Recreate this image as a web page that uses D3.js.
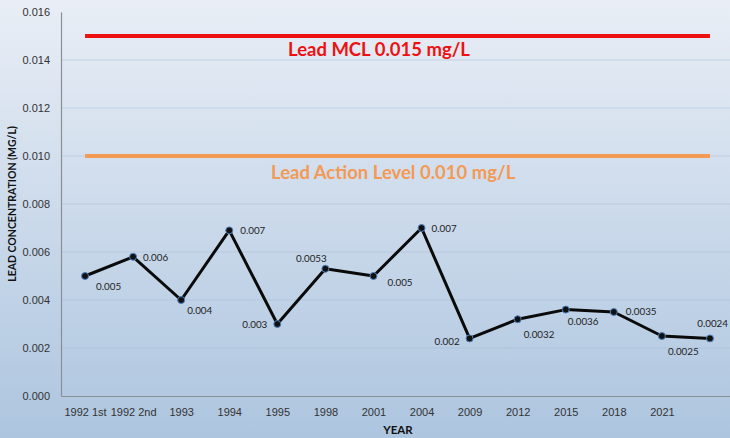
<!DOCTYPE html>
<html lang="en">
<head>
<meta charset="UTF-8">
<title>Lead concentration</title>
<script src="https://cdn.jsdelivr.net/npm/d3@7"></script>
<style>
	body { margin: 0; }
	svg { display: block; font-family: Lato, "Open Sans", sans-serif; }
	.tick text { fill: #333; font-size: 11px; }
	.dot { fill: #111; stroke: #4f81bd; stroke-width: 1px; }
	.lbl { font-size: 9.8px; fill: #222; }
</style>
</head>
<body>
<script>
	var years = ['1992 1st', '1992 2nd', '1993', '1994', '1995', '1998', '2001', '2004',
		'2009', '2012', '2015', '2018', '2021', ''];
	var lead = [0.005, 0.0058, 0.004, 0.0069, 0.003, 0.0053, 0.005, 0.007,
		0.0024, 0.0032, 0.0036, 0.0035, 0.0025, 0.0024];
	var labels = ['0.005', '0.006', '0.004', '0.007', '0.003', '0.0053', '0.005', '0.007',
		'0.002', '0.0032', '0.0036', '0.0035', '0.0025', '0.0024'];
	var yTicks = [0, 0.002, 0.004, 0.006, 0.008, 0.010, 0.012, 0.014, 0.016];
	var mcl = 0.015;
	var actionLevel = 0.010;

	// label placement relative to each point: [dx, dy, anchor]
	var labelPos = [
		[11, 14, 'start'], [10, 4, 'start'], [6, 14, 'start'], [11, 4, 'start'],
		[-10, 4, 'end'], [-14, -7, 'middle'], [14, 10, 'start'], [10, 4, 'start'],
		[-10, 7, 'end'], [6, 19, 'start'], [2, 15, 'start'], [12, 3, 'start'],
		[6, 19, 'start'], [18, -11, 'end']
	];

	var W = 730, H = 438;
	var margin = { top: 12, left: 61, bottom: 42, right: -4 };
	var width = W - margin.left - margin.right;
	var height = H - margin.top - margin.bottom;

	var svg = d3.select('body').append('svg')
		.attr('width', W)
		.attr('height', H);

	var grad = svg.append('defs').append('linearGradient')
		.attr('id', 'bg').attr('x1', 0).attr('y1', 0).attr('x2', 0).attr('y2', 1);
	grad.append('stop').attr('offset', '0%').attr('stop-color', '#e9eef6');
	grad.append('stop').attr('offset', '100%').attr('stop-color', '#adc5df');

	svg.append('rect').attr('width', W).attr('height', H).attr('fill', 'url(#bg)');

	var g = svg.append('g')
		.attr('transform', 'translate(' + margin.left + ',' + margin.top + ')');

	var x = d3.scalePoint()
		.domain(d3.range(years.length))
		.range([0, width])
		.padding(0.5);

	var y = d3.scaleLinear()
		.domain([0, 0.016])
		.range([height, 0]);

	// gridlines
	g.selectAll('.grid')
		.data(yTicks.slice(1, -1))
		.enter().append('line')
		.attr('x1', 0).attr('x2', width)
		.attr('y1', function(d){ return y(d); })
		.attr('y2', function(d){ return y(d); })
		.attr('stroke', '#a9bdd6').attr('stroke-opacity', 0.5).attr('stroke-width', 1);

	// axes
	var yAxis = g.append('g')
		.call(d3.axisLeft(y).tickValues(yTicks).tickFormat(d3.format('.3f')).tickSize(0).tickPadding(11));
	yAxis.select('.domain').attr('stroke', '#8a8f96').attr('stroke-width', 1.2);

	var xAxis = g.append('g')
		.attr('transform', 'translate(0,' + height + ')')
		.call(d3.axisBottom(x).tickFormat(function(i){ return years[i]; }).tickSize(0).tickPadding(12));
	xAxis.select('.domain').attr('stroke', '#8a8f96').attr('stroke-width', 1.2);
	xAxis.selectAll('.tick text').attr('dy', '0.71em');

	// reference lines
	var xFirst = x(0), xLast = x(years.length - 1);
	g.append('line')
		.attr('x1', xFirst).attr('x2', xLast)
		.attr('y1', y(mcl)).attr('y2', y(mcl))
		.attr('stroke', '#ee1111').attr('stroke-width', 4);
	g.append('line')
		.attr('x1', xFirst).attr('x2', xLast)
		.attr('y1', y(actionLevel)).attr('y2', y(actionLevel))
		.attr('stroke', '#f39a55').attr('stroke-width', 4);

	g.append('text')
		.attr('x', 227).attr('y', y(mcl) + 20)
		.attr('fill', '#ee1111').attr('font-weight', 'bold').attr('font-size', 18.5)
		.text('Lead MCL 0.015 mg/L');
	g.append('text')
		.attr('x', 210).attr('y', y(actionLevel) + 23)
		.attr('fill', '#f39a55').attr('font-weight', 'bold').attr('font-size', 18.5)
		.text('Lead Action Level 0.010 mg/L');

	// data line
	var line = d3.line()
		.x(function(d, i){ return x(i); })
		.y(function(d){ return y(d); });

	g.append('path')
		.datum(lead)
		.attr('d', line)
		.attr('fill', 'none')
		.attr('stroke', '#0a0a0a')
		.attr('stroke-width', 3)
		.attr('stroke-linejoin', 'round');

	g.selectAll('.dot')
		.data(lead)
		.enter().append('circle')
		.attr('class', 'dot')
		.attr('r', 3.5)
		.attr('cx', function(d, i){ return x(i); })
		.attr('cy', function(d){ return y(d); });

	g.selectAll('.lbl')
		.data(lead)
		.enter().append('text')
		.attr('class', 'lbl')
		.attr('x', function(d, i){ return x(i) + labelPos[i][0]; })
		.attr('y', function(d, i){ return y(d) + labelPos[i][1]; })
		.attr('text-anchor', function(d, i){ return labelPos[i][2]; })
		.text(function(d, i){ return labels[i]; });

	// axis titles
	svg.append('text')
		.attr('transform', 'translate(16,' + (margin.top + height / 2) + ') rotate(-90)')
		.attr('text-anchor', 'middle')
		.attr('font-weight', 'bold').attr('font-size', 10.5).attr('fill', '#111')
		.text('LEAD CONCENTRATION (MG/L)');

	svg.append('text')
		.attr('x', 398).attr('y', 434)
		.attr('text-anchor', 'middle')
		.attr('font-weight', 'bold').attr('font-size', 11.5).attr('fill', '#111')
		.text('YEAR');
</script>
</body>
</html>
